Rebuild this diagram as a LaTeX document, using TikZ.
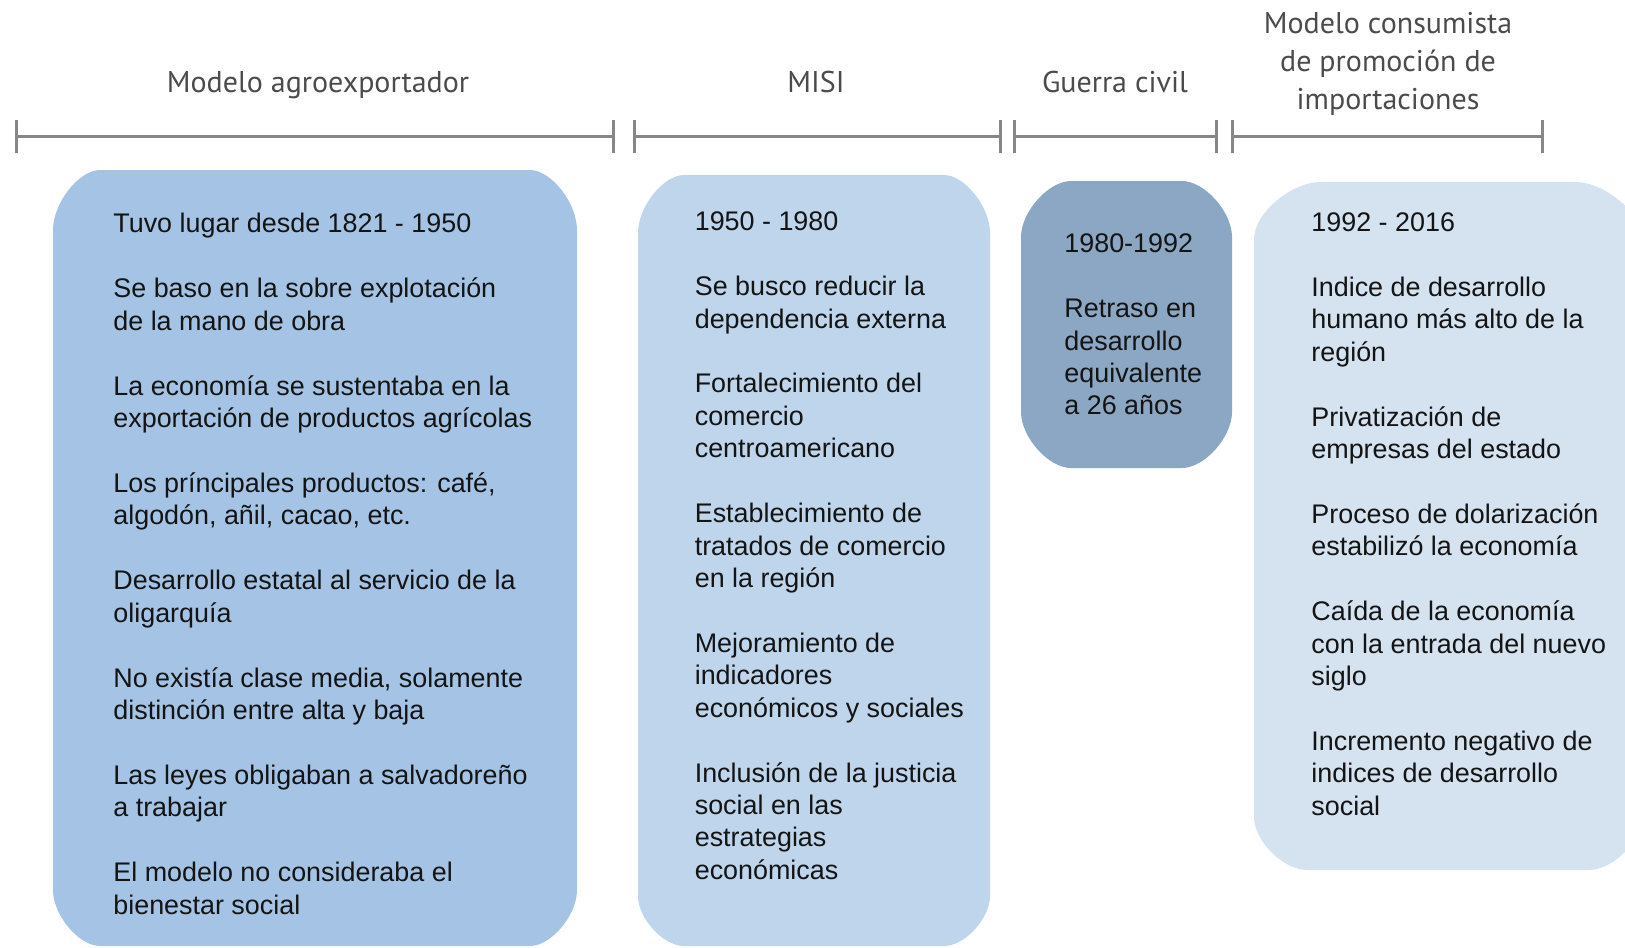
\documentclass[tikz,border=0pt]{standalone}
\usepackage{fontspec}
\setmainfont{Liberation Sans}
\newfontfamily\hdrfont{PT Sans}
\usetikzlibrary{arrows.meta}
\definecolor{boxA}{RGB}{165,196,229}
\definecolor{boxB}{RGB}{190,213,236}
\definecolor{boxC}{RGB}{140,167,195}
\definecolor{boxD}{RGB}{213,226,240}
\definecolor{hdrgray}{RGB}{75,75,75}
\definecolor{tlgray}{RGB}{135,135,135}
\definecolor{txt}{RGB}{20,20,20}
% #1 style, #2 x1, #3 y1, #4 x2, #5 y2, #6 top rx, #7 top ry, #8 bottom rx, #9 bottom ry
\newcommand\roundpanel[9]{%
  \path[#1] ({#2+#6},#3) -- ({#4-#6},#3)
    .. controls ({#4-0.55*#6},#3) and (#4,{#3+0.55*#7}) .. (#4,{#3+#7})
    -- (#4,{#5-#9})
    .. controls (#4,{#5-0.55*#9}) and ({#4-0.55*#8},#5) .. ({#4-#8},#5)
    -- ({#2+#8},#5)
    .. controls ({#2+0.55*#8},#5) and (#2,{#5-0.55*#9}) .. (#2,{#5-#9})
    -- (#2,{#3+#7})
    .. controls (#2,{#3+0.55*#7}) and ({#2+0.55*#6},#3) .. ({#2+#6},#3) -- cycle;}
\tikzset{
  hdr/.style={font=\hdrfont\fontsize{15}{18.9}\selectfont, text=hdrgray, inner sep=0pt, anchor=base},
  body/.style={font=\fontsize{13.45}{16.215}\selectfont, text=txt, inner sep=0pt, anchor=base west, align=left},
  tl/.style={draw=tlgray, line width=1.5pt, {Bar[width=16.5pt,line width=1.5pt]}-{Bar[width=16.5pt,line width=1.5pt]}}
}
\begin{document}
\begin{tikzpicture}[x=0.5pt,y=-0.5pt]
\useasboundingbox (0,0) rectangle (1625,947);
\begin{scope}
\clip (0,0) rectangle (1625,947);
\roundpanel{fill=boxA}{53}{170}{577}{946}{47}{60}{47}{56}
\roundpanel{fill=boxB}{638}{175}{990}{946}{46}{58}{46}{50}
\roundpanel{fill=boxC}{1021}{181}{1232}{468}{50}{56}{50}{56}
\roundpanel{fill=boxD}{1254}{182}{1642}{870}{67}{57}{53}{53}
\end{scope}
% timeline
\coordinate (s1a) at (14.5,136);  \coordinate (s1b) at (615,136);
\coordinate (s2a) at (633,136);   \coordinate (s2b) at (1001.5,136);
\coordinate (s3a) at (1013,136);  \coordinate (s3b) at (1217.7,136);
\coordinate (s4a) at (1230.5,136);\coordinate (s4b) at (1544.3,136);
\draw[tl] (s1a) -- (s1b);
\draw[tl] (s2a) -- (s2b);
\draw[tl] (s3a) -- (s3b);
\draw[tl] (s4a) -- (s4b);
% headers (anchor = baseline of last line)
\node[hdr] (h1) at (318,92) {Modelo agroexportador};
\node[hdr] (h2) at (816,92) {MISI};
\node[hdr] (h3) at (1115,92) {Guerra civil};
\node[hdr, align=center] (h4) at (1388,109.5) {Modelo consumista\\de promoción de\\importaciones};
% body texts (anchor = baseline of last line)
\node[body] (t1) at (113,914) {Tuvo lugar desde 1821 - 1950\\[16.215pt]
Se baso en la sobre explotación\\de la mano de obra\\[16.215pt]
La economía se sustentaba en la\\exportación de productos agrícolas\\[16.215pt]
Los príncipales productos: café,\\algodón, añil, cacao, etc.\\[16.215pt]
Desarrollo estatal al servicio de la\\oligarquía\\[16.215pt]
No existía clase media, solamente\\distinción entre alta y baja\\[16.215pt]
Las leyes obligaban a salvadoreño\\a trabajar\\[16.215pt]
El modelo no consideraba el\\bienestar social};
\node[body] (t2) at (694.4,879.4) {1950 - 1980\\[16.215pt]
Se busco reducir la\\dependencia externa\\[16.215pt]
Fortalecimiento del\\comercio\\centroamericano\\[16.215pt]
Establecimiento de\\tratados de comercio\\en la región\\[16.215pt]
Mejoramiento de\\indicadores\\económicos y sociales\\[16.215pt]
Inclusión de la justicia\\social en las\\estrategias\\económicas};
\node[body] (t3) at (1064,414.9) {1980-1992\\[16.215pt]
Retraso en\\desarrollo\\equivalente\\a 26 años};
\node[body] (t4) at (1311,815.4) {1992 - 2016\\[16.215pt]
Indice de desarrollo\\humano más alto de la\\región\\[16.215pt]
Privatización de\\empresas del estado\\[16.215pt]
Proceso de dolarización\\estabilizó la economía\\[16.215pt]
Caída de la economía\\con la entrada del nuevo\\siglo\\[16.215pt]
Incremento negativo de\\indices de desarrollo\\social};
\end{tikzpicture}
\end{document}
